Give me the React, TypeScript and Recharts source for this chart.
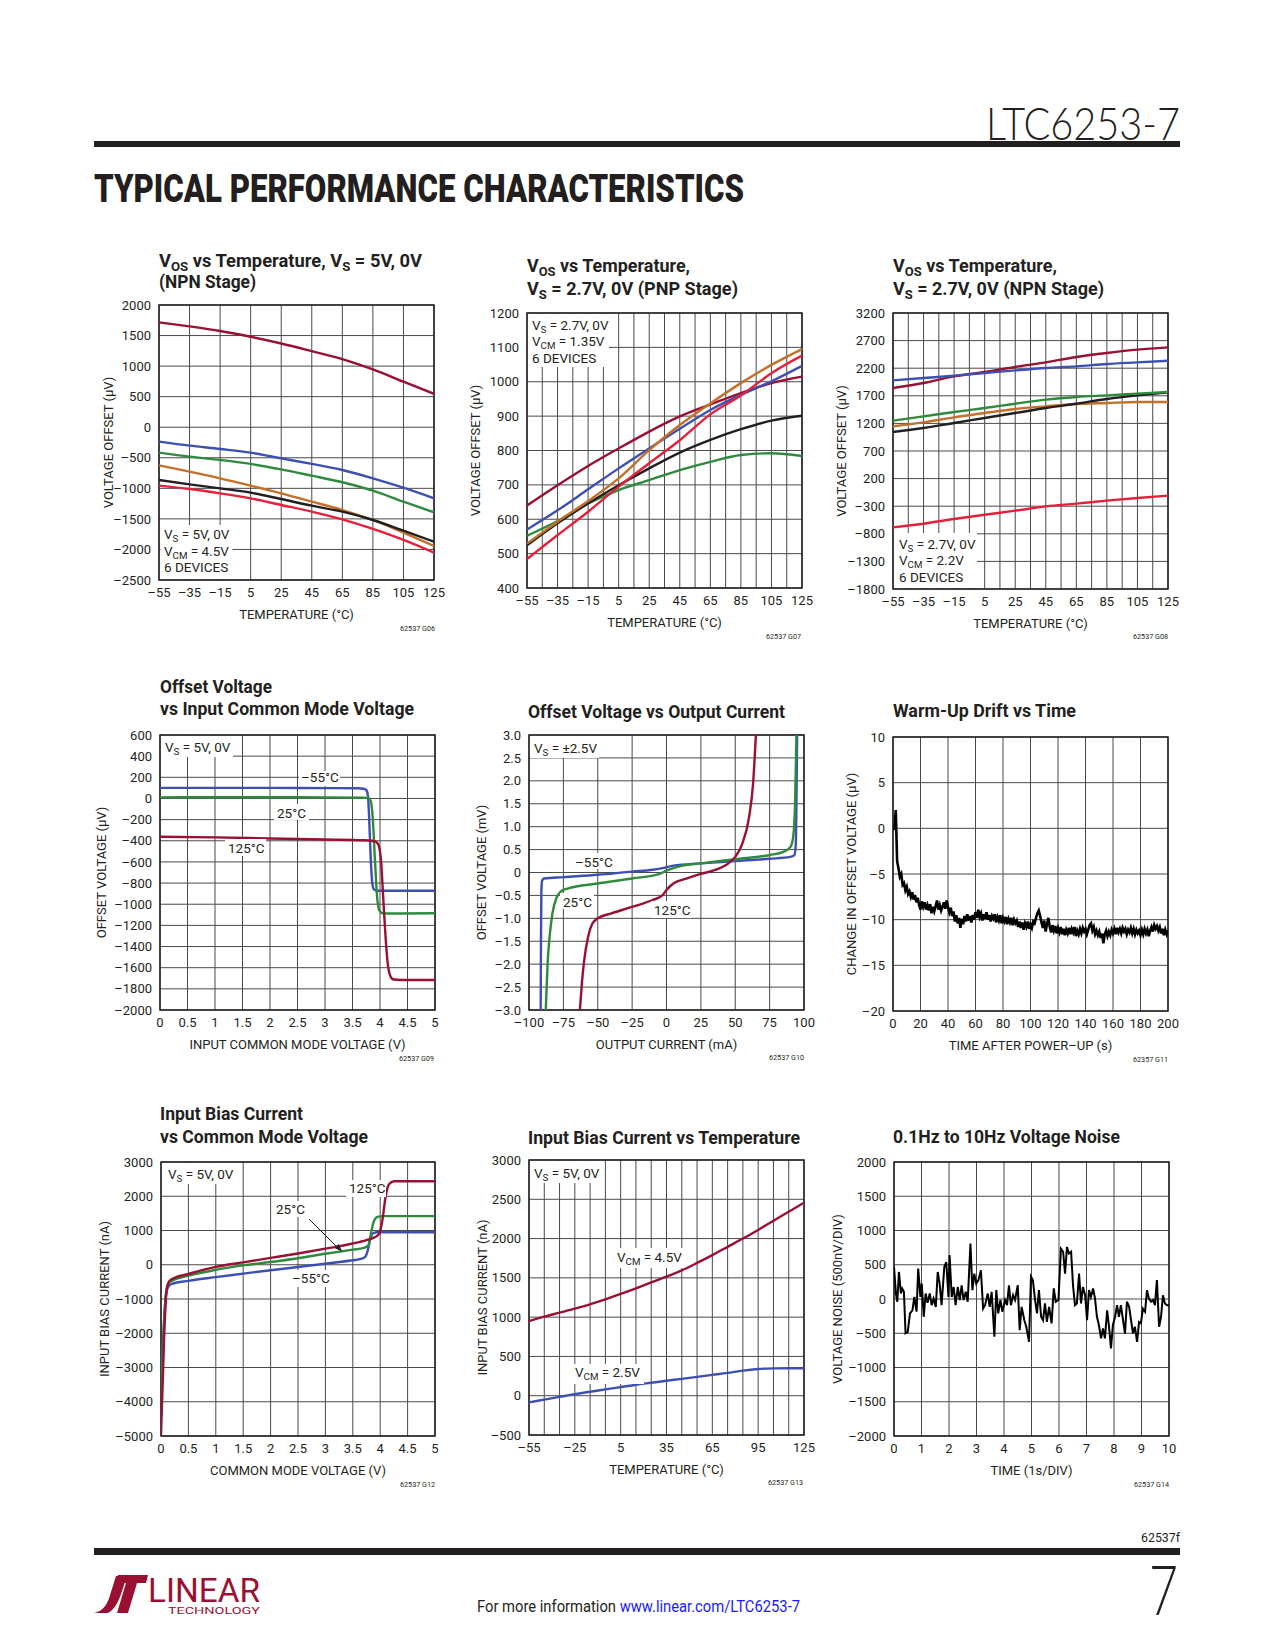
import React from 'react';
import { LineChart, Line, XAxis, YAxis, CartesianGrid, ReferenceArea } from 'recharts';

const INK = '#231f20';
const GRID = '#4a4a4a';
const MAROON = '#9a1032';
const BLUE = '#3d50b2';
const GREEN = '#2f8a3e';
const ORANGE = '#c2702a';
const RED = '#e5203a';
const LINK = '#1a1aff';
const SANS = 'Roboto, "Liberation Sans", Arial, sans-serif';

type Pt = [number, number];

// ---- shared axes ----
const tempC = [-55, -35, -15, 5, 25, 45, 65, 85, 105, 125];
const temp10 = [-55, -45, -35, -25, -15, -5, 5, 15, 25, 35, 45, 55, 65, 75, 85, 95, 105, 115, 125];
const temp30 = [-55, -25, 5, 35, 65, 95, 125];
const volts05 = [0, 0.5, 1, 1.5, 2, 2.5, 3, 3.5, 4, 4.5, 5];

// ---- G06: VOS vs temperature, 5V NPN (µV) ----
const g06Maroon = [1716, 1650, 1575, 1480, 1370, 1245, 1115, 945, 745, 545];
const g06Blue = [-236, -302, -356, -416, -509, -600, -700, -836, -990, -1164];
const g06Green = [-416, -482, -536, -600, -690, -793, -900, -1038, -1218, -1393];
const g06Orange = [-624, -727, -836, -956, -1082, -1218, -1355, -1518, -1725, -1944];
const g06Black = [-864, -935, -1000, -1071, -1175, -1284, -1382, -1518, -1693, -1873];
const g06Red = [-956, -1011, -1082, -1164, -1273, -1382, -1507, -1665, -1845, -2053];

// ---- G07: VOS vs temperature, 2.7V PNP (µV) ----
const g07Maroon = [640, 699, 755, 806, 855, 899, 934, 967, 996, 1015];
const g07Blue = [570, 626, 687, 748, 806, 863, 918, 962, 1001, 1046];
const g07Orange = [529, 593, 653, 719, 801, 874, 937, 996, 1049, 1095];
const g07Red = [484, 554, 622, 695, 763, 830, 905, 960, 1025, 1076];
const g07Black = [524, 588, 646, 699, 748, 794, 831, 862, 887, 901];
const g07Green = [552, 595, 646, 685, 714, 743, 767, 787, 792, 784];

// ---- G08: VOS vs temperature, 2.7V NPN (µV) ----
const g08Maroon = [1841, 1932, 2053, 2131, 2222, 2306, 2403, 2475, 2536, 2578];
const g08Blue = [1980, 2022, 2065, 2113, 2161, 2204, 2234, 2276, 2306, 2336];
const g08Green = [1249, 1328, 1406, 1479, 1557, 1630, 1678, 1708, 1739, 1769];
const g08Orange = [1147, 1219, 1310, 1388, 1461, 1509, 1551, 1570, 1588, 1588];
const g08Black = [1044, 1117, 1207, 1298, 1388, 1479, 1557, 1642, 1708, 1763];
const g08Red = [-683, -617, -532, -454, -381, -303, -254, -200, -152, -109];

// ---- G09: offset vs input common mode (V, µV) ----
const g09Minus55: Pt[] = [[0, 100], [1, 100], [2, 100], [3, 98], [3.6, 96], [3.7, 92], [3.75, 80], [3.78, 30], [3.8, -150], [3.83, -550], [3.86, -800], [3.89, -860], [3.95, -872], [4.5, -872], [5, -872]];
const g09Plus25: Pt[] = [[0, 10], [1, 12], [2, 12], [3, 10], [3.7, 8], [3.78, 4], [3.83, -20], [3.87, -200], [3.91, -600], [3.95, -950], [3.99, -1060], [4.05, -1085], [4.2, -1088], [5, -1085]];
const g09Plus125: Pt[] = [[0, -362], [1, -368], [2, -378], [3, -388], [3.7, -395], [3.85, -400], [3.93, -410], [3.98, -450], [4.02, -600], [4.06, -950], [4.1, -1300], [4.14, -1560], [4.19, -1680], [4.25, -1712], [4.4, -1716], [5, -1716]];

// ---- G10: offset vs output current (mA, mV) ----
const g10Minus55: Pt[] = [[-91.5, -3], [-91.3, -1.5], [-91, -0.4], [-90.5, -0.18], [-89, -0.13], [-75, -0.1], [-50, -0.05], [-25, 0.02], [-10, 0.06], [-2, 0.1], [5, 0.15], [25, 0.2], [50, 0.25], [75, 0.3], [90, 0.34], [93, 0.38], [94, 0.6], [94.5, 1.5], [95, 3]];
const g10Plus25: Pt[] = [[-87.8, -3], [-86.5, -2], [-85, -1.4], [-83, -0.9], [-80, -0.55], [-77, -0.42], [-72, -0.35], [-50, -0.24], [-25, -0.13], [-5, -0.03], [0, 0.04], [10, 0.14], [25, 0.2], [50, 0.29], [75, 0.38], [85, 0.45], [90, 0.55], [92, 0.75], [93.5, 1.5], [94.5, 3]];
const g10Plus125: Pt[] = [[-63, -3], [-61.5, -2.4], [-60, -1.95], [-57, -1.4], [-54, -1.12], [-50, -1.0], [-40, -0.89], [-25, -0.75], [-10, -0.6], [-3, -0.5], [0, -0.38], [5, -0.24], [15, -0.13], [25, -0.03], [35, 0.05], [45, 0.2], [50, 0.34], [55, 0.62], [60, 1.2], [63, 1.95], [65, 3]];

// ---- G11: warm-up drift, one reading per second from t = 1 s (µV) ----
const driftUv = [
  -0.2, 2.0, -3.6, -4.4, -5.3, -5.0, -6.2, -6.0, -6.8, -6.4,
  -7.2, -6.9, -7.5, -7.0, -7.8, -7.3, -8.1, -7.6, -8.4, -8.9,
  -8.0, -8.6, -8.1, -8.9, -8.4, -9.0, -8.3, -9.3, -8.6, -9.1,
  -8.5, -7.9, -8.9, -8.4, -9.0, -8.6, -8.1, -8.8, -7.9, -8.6,
  -9.2, -8.7, -9.6, -9.1, -10.2, -9.5, -10.4, -9.8, -10.9, -9.9,
  -10.5, -9.6, -10.2, -9.4, -10.1, -9.6, -10.3, -9.5, -10.0, -9.2,
  -9.8, -8.9, -9.7, -9.3, -10.1, -9.4, -9.9, -9.2, -10.0, -9.5,
  -10.2, -9.6, -9.9, -9.4, -10.3, -9.7, -10.1, -9.5, -10.4, -9.8,
  -10.2, -9.7, -10.5, -9.9, -10.3, -9.8, -10.6, -10.0, -10.4, -10.1,
  -10.8, -10.2, -10.9, -10.3, -11.1, -10.4, -10.8, -10.2, -11.0, -10.5,
  -10.9, -10.2, -10.4, -9.8, -9.3, -9.0, -9.6, -10.3, -10.9, -10.1,
  -11.3, -10.5, -9.8, -10.8, -11.4, -10.6, -11.2, -10.7, -11.5, -10.9,
  -11.4, -10.8, -11.6, -11.0, -11.7, -11.1, -11.5, -10.9, -11.6, -11.0,
  -11.4, -10.8, -11.8, -11.2, -11.6, -11.0, -11.5, -10.9, -11.3, -11.0,
  -11.6, -11.1, -10.6, -10.4, -11.2, -10.8, -11.6, -11.2, -11.7, -11.3,
  -12.0, -11.5, -12.6, -11.6, -11.2, -11.8, -11.3, -11.7, -11.1, -11.5,
  -11.0, -11.6, -10.9, -11.4, -11.0, -11.5, -10.9, -11.3, -11.0, -11.6,
  -11.1, -11.4, -10.9, -11.5, -11.0, -11.6, -11.1, -11.5, -11.2, -11.7,
  -11.1, -11.6, -11.0, -11.5, -11.1, -11.8, -11.2, -10.8, -11.3, -10.6,
  -11.0, -10.7, -11.2, -10.8, -11.5, -11.0, -11.7, -11.1, -11.6, -11.2,
];

// ---- G12: bias current vs common mode (V, nA) ----
const g12Minus55: Pt[] = [[0, -3650], [0.03, -2500], [0.06, -1500], [0.1, -800], [0.15, -600], [0.2, -560], [0.5, -470], [1, -360], [1.5, -260], [2, -160], [2.5, -65], [3, 30], [3.5, 130], [3.65, 170], [3.72, 220], [3.77, 400], [3.82, 750], [3.87, 920], [3.95, 950], [4.5, 950], [5, 950]];
const g12Plus25: Pt[] = [[0, -4050], [0.03, -2800], [0.06, -1600], [0.1, -700], [0.15, -520], [0.2, -470], [0.5, -320], [1, -150], [1.5, -20], [2, 80], [2.5, 190], [3, 320], [3.5, 440], [3.7, 490], [3.78, 560], [3.83, 900], [3.88, 1250], [3.95, 1400], [4.05, 1420], [5, 1420]];
const g12Plus125: Pt[] = [[0, -4950], [0.03, -3500], [0.06, -2000], [0.1, -800], [0.15, -480], [0.2, -420], [0.5, -270], [1, -60], [1.5, 70], [2, 200], [2.5, 330], [3, 470], [3.5, 620], [3.75, 720], [3.9, 800], [3.98, 900], [4.04, 1300], [4.1, 2000], [4.16, 2350], [4.25, 2440], [5, 2440]];

// ---- G13: bias current vs temperature (nA) ----
const g13Vcm45 = [951, 1006, 1057, 1108, 1163, 1227, 1295, 1367, 1443, 1515, 1595, 1690, 1790, 1895, 2000, 2110, 2228, 2342, 2457];
const g13Vcm25 = [-85, -50, -15, 20, 50, 80, 110, 140, 165, 190, 215, 240, 265, 290, 320, 340, 348, 350, 350];

// ---- G14: 0.1Hz to 10Hz noise (s, nV) ----
const noiseNv: Pt[] = [
  [0, 470], [0.07, 80], [0.12, -40], [0.18, 395], [0.25, 80], [0.3, 150], [0.36, 105], [0.42, -500], [0.5, -480], [0.58, -210],
  [0.67, -165], [0.74, 30], [0.82, -185], [0.88, 445], [0.96, 30], [1.01, 225], [1.08, -260], [1.15, 80], [1.22, -55], [1.3, 80],
  [1.37, -90], [1.44, 5], [1.52, -115], [1.59, 395], [1.66, 225], [1.73, -90], [1.83, 470], [1.9, 540], [1.98, 30], [2.02, 640],
  [2.1, 30], [2.17, 175], [2.24, -90], [2.32, 175], [2.39, -15], [2.46, 200], [2.53, -15], [2.61, 105], [2.68, -40], [2.78, 810],
  [2.85, 130], [2.92, 370], [2.99, 225], [3.07, 275], [3.16, 420], [3.24, -140], [3.31, -90], [3.41, 80], [3.48, -115], [3.55, 105],
  [3.65, -550], [3.72, 130], [3.79, -210], [3.87, -15], [3.94, -185], [4.04, -15], [4.11, -90], [4.18, 200], [4.25, -90], [4.33, 55],
  [4.4, -15], [4.5, 200], [4.57, -455], [4.64, -115], [4.74, -310], [4.81, -405], [4.91, -625], [4.98, 325], [5.05, 275], [5.13, -15],
  [5.2, -210], [5.27, 130], [5.35, -260], [5.42, -310], [5.49, -65], [5.56, -335], [5.64, -115], [5.73, -355], [5.81, 155], [5.88, -40],
  [5.98, -15], [6.07, 735], [6.15, 690], [6.22, 370], [6.29, 760], [6.36, 665], [6.44, 690], [6.51, 200], [6.58, -90], [6.65, -65],
  [6.73, 370], [6.8, -65], [6.87, 175], [6.95, 55], [7.02, -310], [7.09, 130], [7.16, 30], [7.24, 155], [7.31, 5], [7.38, -260],
  [7.45, -380], [7.53, -575], [7.6, -430], [7.67, -575], [7.75, -165], [7.82, -405], [7.89, -720], [7.96, -380], [8.04, -260], [8.11, -90],
  [8.18, -260], [8.25, -90], [8.33, -310], [8.4, -505], [8.47, -40], [8.55, -115], [8.62, -310], [8.69, -505], [8.76, -405], [8.84, -625],
  [8.91, -335], [8.98, -355], [9.05, -140], [9.13, -185], [9.2, 130], [9.27, 5], [9.35, -40], [9.42, -15], [9.49, -90], [9.56, 275],
  [9.64, -405], [9.71, -260], [9.78, 55], [9.85, -65], [9.93, -90], [10, -90],
];

type Row = { x: number; y: number };
const rows = (xs: number[], ys: number[]): Row[] => xs.map((x, i) => ({ x, y: ys[i] }));
const pairs = (p: Pt[]): Row[] => p.map(([x, y]) => ({ x, y }));

const dash = (v: number) => (v < 0 ? '\u2013' + Math.abs(v) : String(v));
const dash1 = (v: number) => (v === 0 ? '0' : (v < 0 ? '\u2013' : '') + Math.abs(v).toFixed(1));

type Series = { data: Row[]; color: string; width?: number; kind?: 'monotone' | 'linear' };

interface PanelProps {
  left: number;
  top: number;
  w: number;
  h: number;
  xDomain: [number, number];
  xGrid: number[];
  xLabels?: number[];
  yDomain: [number, number];
  yGrid: number[];
  yFmt?: (v: number) => string;
  xTitle: string;
  yTitle: string;
  yGap: number;
  series: Series[];
}

const L = 70;
const R = 22;
const T = 10;
const B = 50;

const Panel: React.FC<PanelProps> = (p) => {
  const shown = p.xLabels ?? p.xGrid;
  return (
    <div style={{ position: 'absolute', left: p.left - L, top: p.top - T }}>
      <LineChart width={L + p.w + R} height={T + p.h + B} margin={{ top: T, right: R, left: 0, bottom: 0 }}>
        <CartesianGrid stroke={GRID} strokeWidth={1} />
        <XAxis
          type="number"
          dataKey="x"
          domain={p.xDomain}
          ticks={p.xGrid}
          interval={0}
          height={B}
          allowDataOverflow
          axisLine={false}
          tickLine={false}
          tick={{ fontSize: 13, fill: INK }}
          tickFormatter={(v: number) => (shown.includes(v) ? dash(v) : '')}
          label={{ value: p.xTitle, position: 'insideBottom', offset: B - 39, style: { fontSize: 13, fill: INK } }}
        />
        <YAxis
          type="number"
          domain={p.yDomain}
          ticks={p.yGrid}
          interval={0}
          width={L}
          allowDataOverflow
          axisLine={false}
          tickLine={false}
          tick={{ fontSize: 13, fill: INK }}
          tickFormatter={p.yFmt ?? dash}
          label={{
            value: p.yTitle,
            angle: -90,
            position: 'insideLeft',
            offset: L - p.yGap,
            style: { textAnchor: 'middle', fontSize: 13, fill: INK },
          }}
        />
        <ReferenceArea x1={p.xDomain[0]} x2={p.xDomain[1]} y1={p.yDomain[0]} y2={p.yDomain[1]} fill="none" fillOpacity={0} stroke={INK} strokeWidth={1.5} />
        {p.series.map((s, i) => (
          <Line
            key={i}
            data={s.data}
            dataKey="y"
            type={s.kind ?? 'monotone'}
            stroke={s.color}
            strokeWidth={s.width ?? 2.4}
            dot={false}
            activeDot={false}
            isAnimationActive={false}
          />
        ))}
      </LineChart>
    </div>
  );
};

// "V_{OS}" style strings -> tspans with subscripts
function rich(s: string, shift: number) {
  const parts = s.split(/_\{([^}]*)\}/);
  const out: React.ReactNode[] = [];
  let down = false;
  parts.forEach((part, i) => {
    if (!part) return;
    const sub = i % 2 === 1;
    let dy: number | undefined;
    if (sub && !down) { dy = shift; down = true; }
    else if (!sub && down) { dy = -shift; down = false; }
    out.push(
      <tspan key={i} dy={dy} fontSize={sub ? '72%' : undefined}>{part}</tspan>
    );
  });
  return out;
}

const Title = ({ x, y, w, s }: { x: number; y: number; w: number; s: string }) => (
  <text x={x} y={y} fontSize={18.5} fontWeight={700} fill={INK} textLength={w} lengthAdjust="spacingAndGlyphs">
    {rich(s, 4)}
  </text>
);

const Note = ({ box, x, lines }: { box: [number, number, number, number]; x: number; lines: [number, string][] }) => (
  <g>
    <rect x={box[0]} y={box[1]} width={box[2]} height={box[3]} fill="#fff" />
    {lines.map(([y, s], i) => (
      <text key={i} x={x} y={y} fontSize={13.5} fill={INK}>{rich(s, 3)}</text>
    ))}
  </g>
);

const FigNo = ({ x, y, s }: { x: number; y: number; s: string }) => (
  <text x={x} y={y} fontSize={8} fill={INK} textLength={35} lengthAdjust="spacingAndGlyphs">{s}</text>
);

const drift = driftUv.map((v, i) => ({ x: i + 1, y: v }));

export default function App() {
  return (
    <div style={{ position: 'absolute', left: 0, top: 0, width: 1275, height: 1650, background: '#fff', fontFamily: SANS, overflow: 'hidden' }}>
      <Panel
        left={159} top={305} w={275} h={275}
        xDomain={[-55, 125]} xGrid={tempC}
        yDomain={[-2500, 2000]} yGrid={[-2500, -2000, -1500, -1000, -500, 0, 500, 1000, 1500, 2000]}
        xTitle="TEMPERATURE (°C)" yTitle="VOLTAGE OFFSET (µV)" yGap={51}
        series={[
          { data: rows(tempC, g06Maroon), color: MAROON },
          { data: rows(tempC, g06Blue), color: BLUE },
          { data: rows(tempC, g06Green), color: GREEN },
          { data: rows(tempC, g06Orange), color: ORANGE },
          { data: rows(tempC, g06Black), color: INK },
          { data: rows(tempC, g06Red), color: RED },
        ]}
      />
      <Panel
        left={527} top={313} w={275} h={275}
        xDomain={[-55, 125]} xGrid={temp10} xLabels={tempC}
        yDomain={[400, 1200]} yGrid={[400, 500, 600, 700, 800, 900, 1000, 1100, 1200]}
        xTitle="TEMPERATURE (°C)" yTitle="VOLTAGE OFFSET (µV)" yGap={52}
        series={[
          { data: rows(tempC, g07Green), color: GREEN },
          { data: rows(tempC, g07Black), color: INK },
          { data: rows(tempC, g07Maroon), color: MAROON },
          { data: rows(tempC, g07Blue), color: BLUE },
          { data: rows(tempC, g07Red), color: RED },
          { data: rows(tempC, g07Orange), color: ORANGE },
        ]}
      />
      <Panel
        left={893} top={313} w={275} h={276}
        xDomain={[-55, 125]} xGrid={temp10} xLabels={tempC}
        yDomain={[-1800, 3200]} yGrid={[-1800, -1300, -800, -300, 200, 700, 1200, 1700, 2200, 2700, 3200]}
        xTitle="TEMPERATURE (°C)" yTitle="VOLTAGE OFFSET (µV)" yGap={52}
        series={[
          { data: rows(tempC, g08Maroon), color: MAROON },
          { data: rows(tempC, g08Blue), color: BLUE },
          { data: rows(tempC, g08Orange), color: ORANGE },
          { data: rows(tempC, g08Black), color: INK },
          { data: rows(tempC, g08Green), color: GREEN },
          { data: rows(tempC, g08Red), color: RED },
        ]}
      />
      <Panel
        left={160} top={735} w={275} h={275}
        xDomain={[0, 5]} xGrid={volts05}
        yDomain={[-2000, 600]} yGrid={[-2000, -1800, -1600, -1400, -1200, -1000, -800, -600, -400, -200, 0, 200, 400, 600]}
        xTitle="INPUT COMMON MODE VOLTAGE (V)" yTitle="OFFSET  VOLTAGE (µV)" yGap={59}
        series={[
          { data: pairs(g09Minus55), color: BLUE },
          { data: pairs(g09Plus25), color: GREEN },
          { data: pairs(g09Plus125), color: MAROON },
        ]}
      />
      <Panel
        left={529} top={735} w={275} h={275}
        xDomain={[-100, 100]} xGrid={[-100, -75, -50, -25, 0, 25, 50, 75, 100]}
        yDomain={[-3, 3]} yGrid={[-3, -2.5, -2, -1.5, -1, -0.5, 0, 0.5, 1, 1.5, 2, 2.5, 3]} yFmt={dash1}
        xTitle="OUTPUT CURRENT (mA)" yTitle="OFFSET VOLTAGE (mV)" yGap={48}
        series={[
          { data: pairs(g10Minus55), color: BLUE },
          { data: pairs(g10Plus25), color: GREEN },
          { data: pairs(g10Plus125), color: MAROON },
        ]}
      />
      <Panel
        left={893} top={737} w={275} h={274}
        xDomain={[0, 200]} xGrid={[0, 20, 40, 60, 80, 100, 120, 140, 160, 180, 200]}
        yDomain={[-20, 10]} yGrid={[-20, -15, -10, -5, 0, 5, 10]}
        xTitle="TIME AFTER POWER–UP (s)" yTitle="CHANGE IN OFFSET VOLTAGE (µV)" yGap={42}
        series={[{ data: drift, color: '#000', width: 2.6, kind: 'linear' }]}
      />
      <Panel
        left={161} top={1162} w={274} h={274}
        xDomain={[0, 5]} xGrid={volts05}
        yDomain={[-5000, 3000]} yGrid={[-5000, -4000, -3000, -2000, -1000, 0, 1000, 2000, 3000]}
        xTitle="COMMON MODE VOLTAGE (V)" yTitle="INPUT BIAS CURRENT (nA)" yGap={57}
        series={[
          { data: pairs(g12Minus55), color: BLUE },
          { data: pairs(g12Plus25), color: GREEN },
          { data: pairs(g12Plus125), color: MAROON },
        ]}
      />
      <Panel
        left={529} top={1160} w={275} h={275}
        xDomain={[-55, 125]} xGrid={temp10} xLabels={temp30}
        yDomain={[-500, 3000]} yGrid={[-500, 0, 500, 1000, 1500, 2000, 2500, 3000]}
        xTitle="TEMPERATURE (°C)" yTitle="INPUT BIAS CURRENT (nA)" yGap={47}
        series={[
          { data: rows(temp10, g13Vcm45), color: MAROON },
          { data: rows(temp10, g13Vcm25), color: BLUE },
        ]}
      />
      <Panel
        left={894} top={1162} w={275} h={274}
        xDomain={[0, 10]} xGrid={[0, 1, 2, 3, 4, 5, 6, 7, 8, 9, 10]}
        yDomain={[-2000, 2000]} yGrid={[-2000, -1500, -1000, -500, 0, 500, 1000, 1500, 2000]}
        xTitle="TIME (1s/DIV)" yTitle="VOLTAGE NOISE (500nV/DIV)" yGap={57}
        series={[{ data: pairs(noiseNv), color: '#000', width: 2, kind: 'linear' }]}
      />

      <svg width={1275} height={1650} style={{ position: 'absolute', left: 0, top: 0, pointerEvents: 'none' }} fontFamily={SANS}>
        {/* page header */}
        <text x={1180} y={140} textAnchor="end" fontFamily="Lato, sans-serif" fontWeight={300} fontSize={46} fill={INK} textLength={194} lengthAdjust="spacingAndGlyphs">LTC6253-7</text>
        <rect x={94} y={141} width={1086} height={6} fill={INK} />
        <text x={94} y={202} fontSize={38} fontWeight={900} fill={INK} textLength={650} lengthAdjust="spacingAndGlyphs">TYPICAL PERFORMANCE CHARACTERISTICS</text>

        {/* chart titles */}
        <Title x={159} y={267} w={263} s="V_{OS} vs Temperature, V_{S} = 5V, 0V" />
        <Title x={159} y={288} w={97} s="(NPN Stage)" />
        <Title x={527} y={272} w={163} s="V_{OS} vs Temperature," />
        <Title x={527} y={295} w={211} s="V_{S} = 2.7V, 0V (PNP Stage)" />
        <Title x={893} y={272} w={164} s="V_{OS} vs Temperature," />
        <Title x={893} y={295} w={211} s="V_{S} = 2.7V, 0V (NPN Stage)" />
        <Title x={160} y={693} w={112} s="Offset Voltage" />
        <Title x={160} y={715} w={254} s="vs Input Common Mode Voltage" />
        <Title x={528} y={718} w={257} s="Offset Voltage vs Output Current" />
        <Title x={893} y={717} w={183} s="Warm-Up Drift vs Time" />
        <Title x={160} y={1120} w={143} s="Input Bias Current" />
        <Title x={160} y={1143} w={208} s="vs Common Mode Voltage" />
        <Title x={528} y={1144} w={272} s="Input Bias Current vs Temperature" />
        <Title x={893} y={1143} w={227} s="0.1Hz to 10Hz Voltage Noise" />

        {/* condition notes */}
        <Note box={[160.5, 525, 72, 54]} x={164} lines={[[539, 'V_{S} = 5V, 0V'], [556, 'V_{CM} = 4.5V'], [572, '6 DEVICES']]} />
        <Note box={[528, 314, 81, 53]} x={532} lines={[[330, 'V_{S} = 2.7V, 0V'], [346, 'V_{CM} = 1.35V'], [363, '6 DEVICES']]} />
        <Note box={[894, 533, 83, 55]} x={899} lines={[[549, 'V_{S} = 2.7V, 0V'], [565, 'V_{CM} = 2.2V'], [582, '6 DEVICES']]} />
        <Note box={[161, 736, 72, 21]} x={165} lines={[[752, 'V_{S} = 5V, 0V']]} />
        <Note box={[530, 736, 69, 22]} x={534} lines={[[753, 'V_{S} = \u00b12.5V']]} />
        <Note box={[162, 1163, 73, 21]} x={168} lines={[[1179, 'V_{S} = 5V, 0V']]} />
        <Note box={[530, 1161, 72, 22]} x={534} lines={[[1178, 'V_{S} = 5V, 0V']]} />

        {/* curve labels */}
        <Note box={[299, 771, 41, 15]} x={301} lines={[[782, '\u201355\u00b0C']]} />
        <Note box={[274, 804, 35, 16]} x={277} lines={[[818, '25\u00b0C']]} />
        <Note box={[225, 839, 41, 17]} x={228} lines={[[853, '125\u00b0C']]} />
        <Note box={[572, 853, 41, 16]} x={575} lines={[[867, '\u201355\u00b0C']]} />
        <Note box={[560, 893, 34, 16]} x={563} lines={[[907, '25\u00b0C']]} />
        <Note box={[651, 901, 41, 17]} x={654} lines={[[915, '125\u00b0C']]} />
        <Note box={[346, 1180, 40, 17]} x={349} lines={[[1193, '125\u00b0C']]} />
        <Note box={[273, 1201, 34, 16]} x={276} lines={[[1214, '25\u00b0C']]} />
        <Note box={[289, 1270, 42, 17]} x={292} lines={[[1283, '\u201355\u00b0C']]} />
        <Note box={[614, 1248, 70, 20]} x={617} lines={[[1262, 'V_{CM} = 4.5V']]} />
        <Note box={[572, 1364, 72, 20]} x={575} lines={[[1377, 'V_{CM} = 2.5V']]} />
        <line x1={309} y1={1219} x2={339} y2={1249} stroke={INK} strokeWidth={1} />
        <polygon points="342.3,1251.7 334.5,1248.1 338.7,1243.9" fill={INK} />

        {/* figure numbers */}
        <FigNo x={400} y={631} s="62537 G06" />
        <FigNo x={766} y={639} s="62537 G07" />
        <FigNo x={1133} y={639} s="62537 G08" />
        <FigNo x={399} y={1061} s="62537 G09" />
        <FigNo x={769} y={1060} s="62537 G10" />
        <FigNo x={1133} y={1062} s="62357 G11" />
        <FigNo x={400} y={1487} s="62537 G12" />
        <FigNo x={768} y={1485} s="62537 G13" />
        <FigNo x={1134} y={1487} s="62537 G14" />

        {/* page footer */}
        <text x={1180} y={1542} textAnchor="end" fontSize={12} fill={INK} textLength={39} lengthAdjust="spacingAndGlyphs">62537f</text>
        <rect x={94} y={1548} width={1086} height={7} fill={INK} />
        <text x={1178} y={1615} textAnchor="end" fontFamily="Lato, sans-serif" fontWeight={300} fontSize={68} fill={INK} textLength={29} lengthAdjust="spacingAndGlyphs">7</text>
        <text x={477} y={1612} fontSize={16} fill={INK} textLength={323} lengthAdjust="spacingAndGlyphs">
          For more information <tspan fill={LINK}>www.linear.com/LTC6253-7</tspan>
        </text>
        <g fill={MAROON}>
          <path d="M94 1613 C104 1611 108 1603 111 1592 L116 1576 L127 1576 L121 1594 C117 1606 112 1611 108 1613 Z" />
          <path d="M118 1575 L148 1575 L146 1583 L137 1583 L128 1613 L117 1613 L126 1583 L116 1583 Z" />
          <text x={148} y={1602} fontSize={34} fontWeight={400} textLength={112} lengthAdjust="spacingAndGlyphs">LINEAR</text>
          <text x={168} y={1614} fontSize={9} textLength={92} lengthAdjust="spacingAndGlyphs">TECHNOLOGY</text>
        </g>
      </svg>
    </div>
  );
}
